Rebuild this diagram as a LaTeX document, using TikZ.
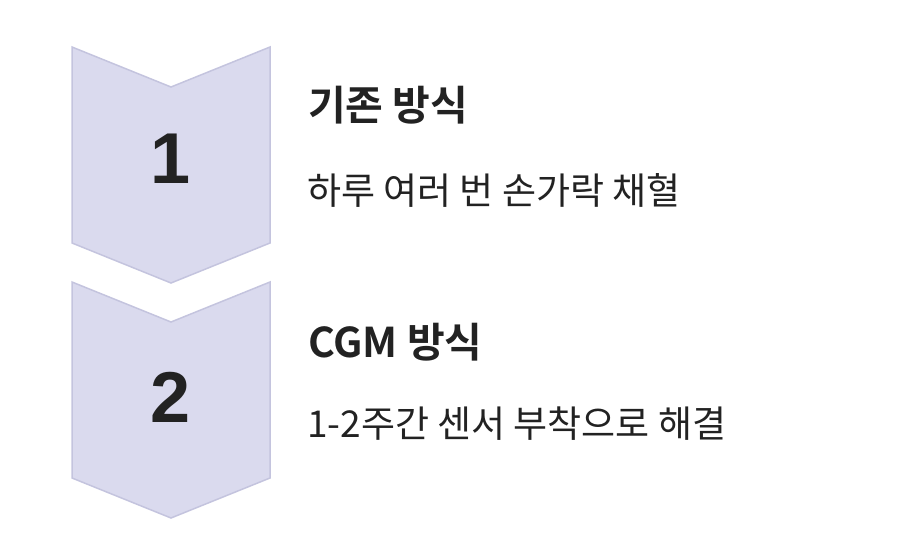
\documentclass[tikz,border=0pt]{standalone}
\usepackage{fontspec}
\setmainfont{Noto Sans CJK KR}[BoldFont={Noto Sans CJK KR Bold}]
\newfontfamily\numfont{Liberation Sans}
\definecolor{chevfill}{RGB}{218, 218, 238}
\definecolor{chevline}{RGB}{196, 196, 222}
\definecolor{inkdark}{RGB}{34, 34, 34}
\usetikzlibrary{positioning, calc}

\begin{document}
\begin{tikzpicture}[x=1pt, y=-1pt,
    chevron/.style={fill=chevfill, draw=chevline, line width=1.5pt, line join=miter},
    stepnum/.style={font=\numfont\fontsize{72}{72}\selectfont\bfseries, text=inkdark},
    steptitle/.style={anchor=west, inner sep=0pt, font=\fontsize{41}{41}\selectfont\bfseries, text=inkdark},
    stepdesc/.style={anchor=west, inner sep=0pt, font=\fontsize{37}{37}\selectfont, text=inkdark}]
  \useasboundingbox (0,0) rectangle (898,558);
  % chevrons
  \foreach \dy in {0, 235} {
    \draw[chevron] (72,47+\dy) -- (171,87+\dy) -- (270,47+\dy) -- (270,243+\dy)
      -- (171,283+\dy) -- (72,243+\dy) -- cycle;
  }
  \node[stepnum] (num1) at (171,159) {1};
  \node[stepnum] (num2) at (171,397) {2};
  % texts
  \node[steptitle] (title1) at (308,105) {기존 방식};
  \node[stepdesc] (desc1) at (307,190) {하루 여러 번 손가락 채혈};
  \node[steptitle] (title2) at (308,342) {CGM 방식};
  \node[stepdesc] (desc2) at (307,424) {1-2주간 센서 부착으로 해결};
\end{tikzpicture}
\end{document}
